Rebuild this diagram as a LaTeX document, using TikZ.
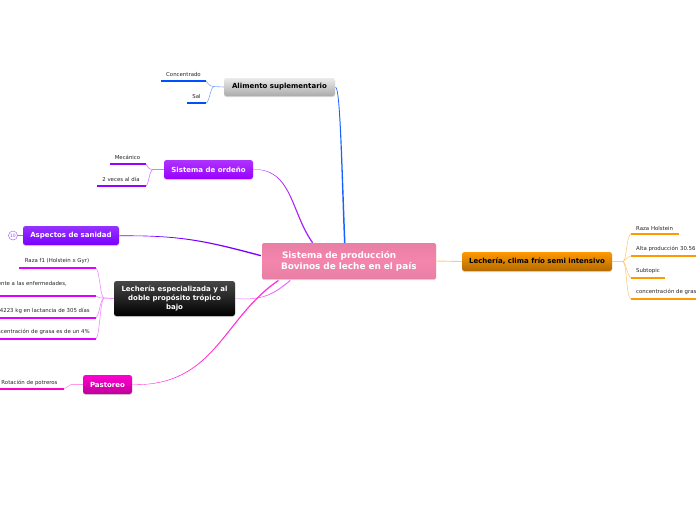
\documentclass[tikz,border=0pt]{standalone}
\usepackage{fontspec}
\setmainfont{DejaVu Sans}
\usepackage{xcolor}
\usetikzlibrary{calc, shadows}
\definecolor{mapblue}{HTML}{0050FF}
\definecolor{mapviolet}{HTML}{9A00FF}
\definecolor{mapindigo}{HTML}{7A00FF}
\definecolor{mapmagenta}{HTML}{E000FF}
\definecolor{mappink}{HTML}{FF00CC}
\definecolor{maporange}{HTML}{FF9900}
\definecolor{mainpink}{HTML}{F485AD}
\definecolor{mainedge}{HTML}{E87FA5}
\tikzset{
	topic/.style={rounded corners=2.5pt, inner sep=0pt, align=center, font=\fontsize{7}{9}\selectfont\bfseries,
		drop shadow={shadow xshift=0pt, shadow yshift=-1pt, opacity=0.3}},
	leaf/.style={inner sep=0pt, font=\fontsize{5.4}{6.5}\selectfont, text=black!85},
	bar/.style={line width=1.7pt},
	twig/.style={line width=0.6pt}
}
% tapered branch: colour, start, control, control, end, offset
\newcommand{\taper}[6]{\fill[#1] (#2) .. controls (#3) and (#4) .. (#5) -- ++(#6) .. controls ($(#4)+(#6)$) and ($(#3)+0.5*(#6)$) .. ($(#2)+0.4*(#6)$) -- cycle;}
\begin{document}
\begin{tikzpicture}[x=1pt, y=-1pt]
	\clip (0,0) rectangle (696,520);
	\fill[white] (0,0) rectangle (696,520);

	\node [topic, minimum width=174pt, minimum height=36pt, rounded corners=1.5pt, text=white,
		top color=mainedge, bottom color=mainedge, middle color=mainpink,
		font=\fontsize{8.9}{11}\selectfont\bfseries, align=left, text width=146pt] (main) at (349,261)
		{\rule{0pt}{8.8pt}\hspace*{6pt}Sistema de producción\\\hspace*{5pt}Bovinos de leche en el país};

	\node [topic, minimum width=111pt, minimum height=18pt, top color=black!8, bottom color=black!33] (alimento) at (279.5,87) {Alimento suplementario};
	\node [topic, minimum width=89pt, minimum height=19pt, text=white, top color=mapviolet!80!white, bottom color=mapviolet] (ordeno) at (208.5,169.5) {Sistema de ordeño};
	\node [topic, minimum width=96pt, minimum height=19pt, text=white, top color=mapindigo!80!white, bottom color=mapindigo] (sanidad) at (71,235.5) {Aspectos de sanidad};
	\node [topic, minimum width=121pt, minimum height=35pt, text=white, top color=black!72, bottom color=black] (especial) at (174.5,298.5) {Lechería especializada y al\\doble propósito trópico\\bajo};
	\node [topic, minimum width=49pt, minimum height=19pt, text=white, top color=mappink!90!magenta, bottom color=mappink!75!black] (pastoreo) at (107.5,384.5) {Pastoreo};
	\node [topic, minimum width=150pt, minimum height=19pt, top color=maporange, bottom color=maporange!70!black] (clima) at (537,261.5) {Lechería, clima frío semi intensivo};

	% main branches
	\coordinate (mainA) at (344,243);
	\coordinate (mainB) at (312,243);
	\coordinate (mainC) at (261,255);
	\coordinate (mainD) at (290,280);
	\coordinate (mainE) at (278,280);
	\taper{mapblue!90!white}{alimento.east}{340,88}{341,170}{mainA}{1.5,0}
	\taper{mapviolet!85!white}{ordeno.east}{292,169}{290,212}{mainB}{1.2,-0.5}
	\taper{mapindigo}{sanidad.east}{180,235}{205,240}{mainC}{-0.3,1.3}
	\taper{mapmagenta!60!white}{especial.east}{262,300}{272,295}{mainD}{0.6,0.8}
	\taper{mappink!80!white}{pastoreo.east}{215,386}{222,318}{mainE}{0.9,0.9}
	\draw [maporange!50!white, line width=0.9pt] (main.east) -- (clima.west);

	% alimento
	\coordinate (jointA) at (214,86.5);
	\coordinate (concentradoEnd) at (206,81);
	\coordinate (salEnd) at (206,103);
	\node [leaf] (concentrado) at (183.5,74.5) {Concentrado};
	\node [leaf] (sal) at (196.5,96.5) {Sal};
	\coordinate (concentradoStart) at (161,81);
	\coordinate (salStart) at (187,103);
	\draw [bar, mapblue] (concentradoStart) -- (concentradoEnd);
	\draw [bar, mapblue] (salStart) -- (salEnd);
	\draw [twig, mapblue!50!white] (alimento.west) -- (jointA) .. controls (210,86) .. (concentradoEnd);
	\draw [twig, mapblue!50!white] (jointA) .. controls (210,88) and (210,101) .. (salEnd);

	% ordeno
	\coordinate (jointB) at (153,169.5);
	\coordinate (mecanicoEnd) at (146,164);
	\coordinate (vecesEnd) at (146,186);
	\node [leaf] (mecanico) at (127.5,157) {Mecánico};
	\node [leaf] (veces) at (121,179) {2 veces al día};
	\coordinate (mecanicoStart) at (110,164);
	\coordinate (vecesStart) at (97,186);
	\draw [bar, mapviolet] (mecanicoStart) -- (mecanicoEnd);
	\draw [bar, mapviolet] (vecesStart) -- (vecesEnd);
	\draw [twig, mapviolet!50!white] (ordeno.west) -- (jointB) .. controls (149,169) .. (mecanicoEnd);
	\draw [twig, mapviolet!50!white] (jointB) .. controls (149,171) and (149,184) .. (vecesEnd);

	% sanidad
	\node [circle, draw=mapindigo!60!white, line width=0.5pt, minimum size=9pt, inner sep=0pt, text=mapindigo!70!white, font=\fontsize{4.5}{5}\selectfont] (cuenta) at (13,235.5) {10};
	\draw [mapindigo!60!white, line width=0.7pt] (cuenta) -- (sanidad.west);

	% especial
	\coordinate (jointC) at (104,298);
	\coordinate (razaEnd) at (96,268);
	\coordinate (resistEnd) at (96,296);
	\coordinate (kgEnd) at (96,318);
	\coordinate (grasaEnd) at (96,339);
	\node [leaf] (raza) at (57,261) {Raza f1 (Holstein x Gyr)};
	\node [leaf, anchor=east] (resist) at (67,283.5) {ente a las enfermedades,};
	\node [leaf, anchor=east] (kg) at (90,311) {4223 kg en lactancia de 305 días};
	\node [leaf, anchor=east] (grasa) at (90,332) {concentración de grasa es de un 4\%};
	\coordinate (razaStart) at (19,268);
	\coordinate (resistStart) at (-2,296);
	\coordinate (kgStart) at (-2,318);
	\coordinate (grasaStart) at (-2,339);
	\draw [bar, mapmagenta] (razaStart) -- (razaEnd);
	\draw [bar, mapmagenta] (resistStart) -- (resistEnd);
	\draw [bar, mapmagenta] (kgStart) -- (kgEnd);
	\draw [bar, mapmagenta] (grasaStart) -- (grasaEnd);
	\draw [twig, mapmagenta!45!white, line width=0.9pt] (especial.west) -- (jointC);
	\draw [twig, mapmagenta!45!white] (jointC) .. controls (100,297) and (100,272) .. (razaEnd);
	\draw [twig, mapmagenta!45!white] (jointC) .. controls (100,298) .. (resistEnd);
	\draw [twig, mapmagenta!45!white] (jointC) .. controls (100,299) and (100,314) .. (kgEnd);
	\draw [twig, mapmagenta!45!white] (jointC) .. controls (100,300) and (100,335) .. (grasaEnd);

	% pastoreo
	\coordinate (jointD) at (71,384.5);
	\coordinate (rotacionEnd) at (64,389);
	\coordinate (rotacionStart) at (-2,389);
	\node [leaf] (rotacion) at (29.5,383) {Rotación de potreros};
	\draw [bar, mappink] (rotacionStart) -- (rotacionEnd);
	\draw [twig, mappink!40!white] (pastoreo.west) -- (jointD) -- (rotacionEnd);

	% clima
	\coordinate (jointE) at (623,261.5);
	\coordinate (holsteinStart) at (631,234);
	\coordinate (altaStart) at (631,256);
	\coordinate (subtopicStart) at (631,278);
	\coordinate (grasaStartB) at (631,299);
	\coordinate (holsteinEnd) at (679,234);
	\coordinate (altaEnd) at (698,256);
	\coordinate (subtopicEnd) at (665,278);
	\coordinate (grasaEndB) at (698,299);
	\node [leaf, anchor=west] (holstein) at (636,228) {Raza Holstein};
	\node [leaf, anchor=west] (alta) at (636,249) {Alta producción 30.56};
	\node [leaf, anchor=west] (subtopic) at (636,271) {Subtopic};
	\node [leaf, anchor=west] (grasaB) at (636,292) {concentración de grasa};
	\draw [bar, maporange] (holsteinStart) -- (holsteinEnd);
	\draw [bar, maporange] (altaStart) -- (altaEnd);
	\draw [bar, maporange] (subtopicStart) -- (subtopicEnd);
	\draw [bar, maporange] (grasaStartB) -- (grasaEndB);
	\draw [twig, maporange!50!white, line width=0.9pt] (clima.east) -- (jointE);
	\draw [twig, maporange!50!white] (jointE) .. controls (627,260) and (626,236) .. (holsteinStart);
	\draw [twig, maporange!50!white] (jointE) .. controls (626,260) and (627,257) .. (altaStart);
	\draw [twig, maporange!50!white] (jointE) .. controls (626,263) and (627,275) .. (subtopicStart);
	\draw [twig, maporange!50!white] (jointE) .. controls (627,264) and (626,297) .. (grasaStartB);
\end{tikzpicture}
\end{document}
